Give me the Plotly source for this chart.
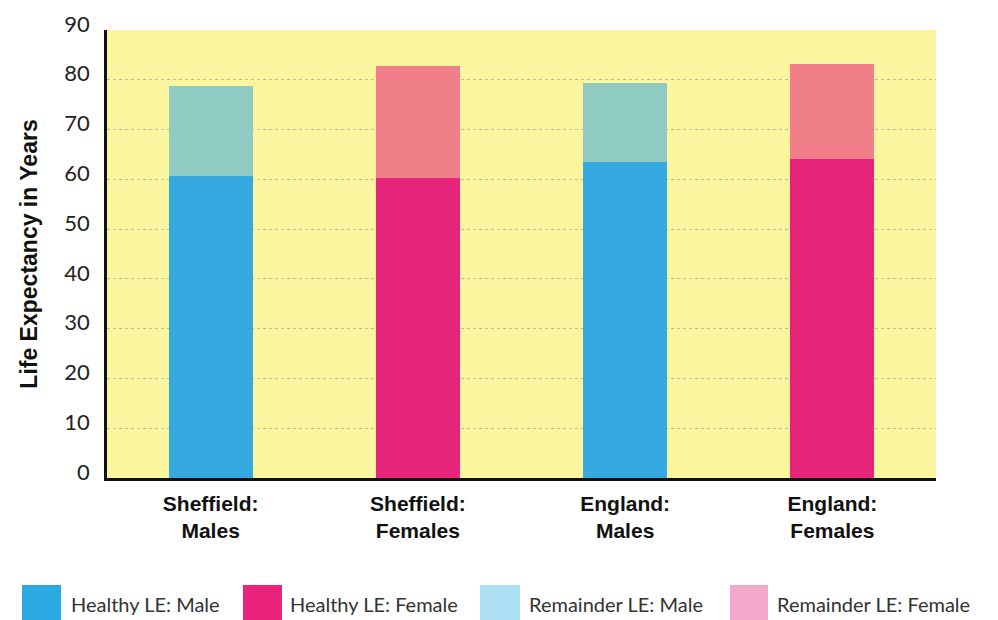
import plotly.graph_objects as go

# ---- data ----
categories = ["Sheffield:<br>Males", "Sheffield:<br>Females", "England:<br>Males", "England:<br>Females"]
total_le = [78.7, 82.7, 79.3, 83.2]
healthy_le = [60.6, 60.2, 63.4, 64.1]
remainder_le = [round(t - h, 1) for t, h in zip(total_le, healthy_le)]
is_male = [True, False, True, False]

legend_labels = ["Healthy LE: Male", "Healthy LE: Female", "Remainder LE: Male", "Remainder LE: Female"]
legend_colors = ["#2CA9E1", "#E9247A", "#ADDFF5", "#F4A9CB"]

y_ticks = list(range(0, 100, 10))

# ---- styles ----
healthy_colors = ["#36A9E1" if m else "#E6247A" for m in is_male]
remainder_colors = ["#8FCBC3" if m else "#F07F8A" for m in is_male]
BG = "#FBF5A0"

OFF = 8  # page body margin
W, H = 998 - OFF, 620 - OFF
L, T = 107 - OFF, 30 - OFF
R = 998 - 936
B = H - (478 - OFF)
pw, ph = W - L - R, H - T - B


def px_x(px):
    return (px - OFF - L) / pw


def px_y(py):
    return (H - B - (py - OFF)) / ph


fig = go.Figure()
fig.add_trace(go.Bar(x=categories, y=healthy_le, marker=dict(color=healthy_colors, line=dict(width=0)),
                     showlegend=False, hoverinfo="y"))
fig.add_trace(go.Bar(x=categories, y=remainder_le, marker=dict(color=remainder_colors, line=dict(width=0)),
                     showlegend=False, hoverinfo="y"))

shapes = []
annotations = []
sw_x = [(22, 61), (243, 282), (480, 520), (730, 768)]
tx_x = [69, 288, 527, 775]
for (x0, x1), tx, lab, col in zip(sw_x, tx_x, legend_labels, legend_colors):
    shapes.append(dict(type="rect", xref="paper", yref="paper",
                       x0=px_x(x0), x1=px_x(x1), y0=px_y(585), y1=px_y(620),
                       fillcolor=col, line=dict(width=0), layer="above"))
    annotations.append(dict(xref="paper", yref="paper", x=px_x(tx), y=px_y(604),
                            xanchor="left", yanchor="middle", text=lab, showarrow=False,
                            font=dict(family="Lato", size=20, color="#333333")))

fig.update_layout(
    width=W, height=H,
    margin=dict(l=L, r=R, t=T, b=B, autoexpand=False),
    paper_bgcolor="white", plot_bgcolor=BG,
    barmode="stack", bargap=0.595,
    shapes=shapes, annotations=annotations,
    showlegend=False,
    xaxis=dict(showline=True, linecolor="#111111", linewidth=2.5, showgrid=False,
               ticks="", ticklabelstandoff=5,
               tickfont=dict(family="Liberation Sans", size=21, color="#111111", weight="bold")),
    yaxis=dict(range=[0, 90], tickvals=y_ticks, showline=True, linecolor="#111111", linewidth=2.5,
               showgrid=True, gridcolor="#BDBAA0", griddash="dot", gridwidth=1,
               zeroline=False, ticks="", ticklabelstandoff=10, ticklabelshift=-6,
               tickfont=dict(family="Lato", size=22, color="#222222"),
               title=dict(text="Life Expectancy in Years", standoff=21,
                          font=dict(family="Liberation Sans", size=23, color="#111111", weight="bold"))),
)

fig.write_html("out.html")
